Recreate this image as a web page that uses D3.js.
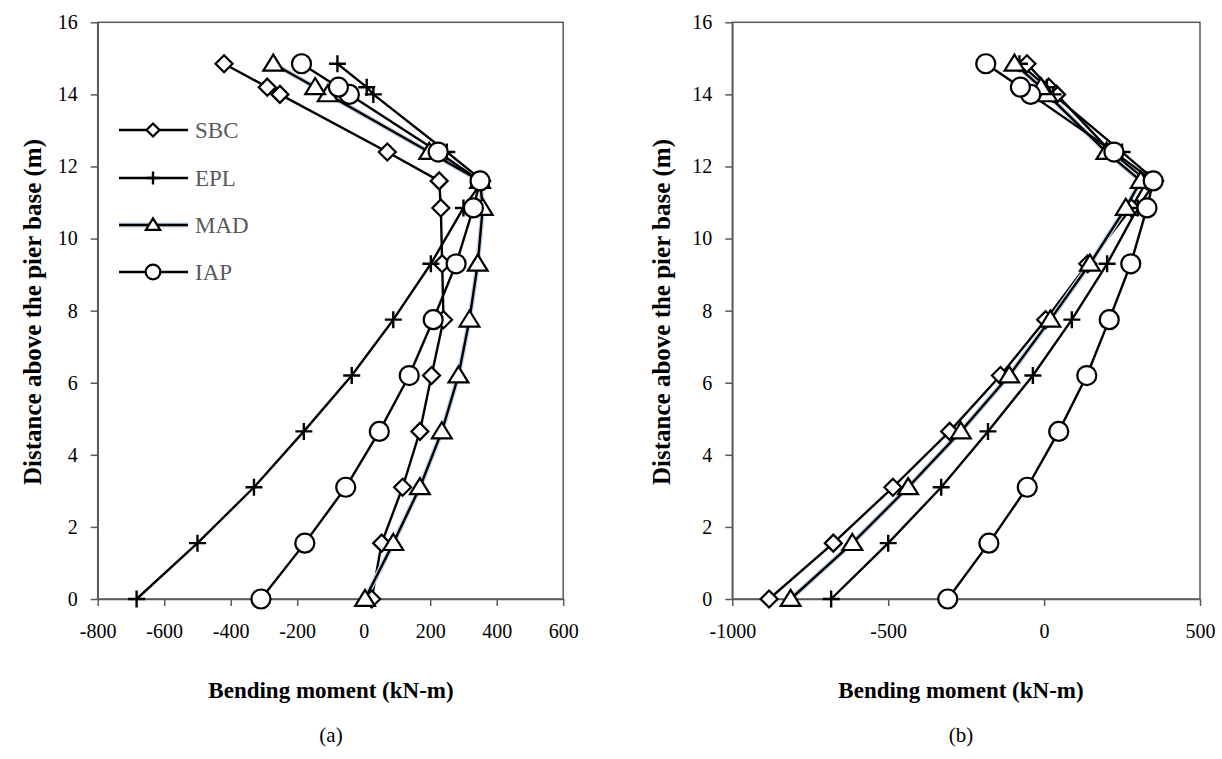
<!DOCTYPE html>
<html>
<head>
<meta charset="utf-8">
<script src="https://cdn.jsdelivr.net/npm/d3@7"></script>
<style>
  html, body { margin: 0; padding: 0; background: #fff; }
  svg { display: block; }
  text { font-family: "Liberation Serif", "Times New Roman", Times, serif; }
</style>
</head>
<body>
<svg id="chart" width="1222" height="759"></svg>
<script>
// ---- Data ----
const heights = [0, 1.55, 3.1, 4.65, 6.2, 7.75, 9.3, 10.85, 11.6, 12.4, 14.0, 14.2, 14.85];

// Panel (a)
const sbcA = [24, 54, 117, 169, 204, 240, 236, 232, 227, 71, -252, -290, -420];
const eplA = [-683, -500, -330, -180, -36, 89, 202, 300, 358, 250, 29, 9, -79];
const madA = [4, 89, 169, 235, 285, 318, 343, 358, 350, 197, -108, -146, -272];
const iapA = [-309, -177, -54, 47, 137, 209, 278, 330, 350, 224, -43, -76, -187];

// Panel (b)
const sbcB = [-882, -676, -485, -303, -140, 5, 140, 280, 330, 215, 40, 15, -55];
const eplB = [-683, -500, -330, -180, -36, 89, 202, 300, 358, 250, 29, 9, -79];
const madB = [-813, -615, -436, -267, -112, 20, 147, 262, 310, 200, 10, -10, -95];
const iapB = [-309, -177, -54, 47, 137, 209, 278, 330, 350, 224, -43, -76, -187];

const seriesNames = ["SBC", "EPL", "MAD", "IAP"];
const seriesShapes = ["diamond", "plus", "triangle", "circle"];

const xTicksA = [-800, -600, -400, -200, 0, 200, 400, 600];
const xTicksB = [-1000, -500, 0, 500];
const yTicks = [0, 2, 4, 6, 8, 10, 12, 14, 16];

const xTitle = "Bending moment (kN-m)";
const yTitle = "Distance above the pier base (m)";
const panelLabels = ["(a)", "(b)"];

// ---- Drawing ----
const FONT = "'Liberation Serif', 'Times New Roman', Times, serif";
const svg = d3.select("#chart");
const axisColor = "#595959";

function markerPath(shape, s) {
  if (shape === "diamond") return `M0,${-s}L${s},0L0,${s}L${-s},0Z`;
  if (shape === "triangle") {
    const h = s * 1.7;
    return `M0,${-h * 0.6}L${s * 1.1},${h * 0.45}L${-s * 1.1},${h * 0.45}Z`;
  }
  if (shape === "plus") return `M${-s},0L${s},0M0,${-s}L0,${s}`;
  return null;
}

function drawMarker(g, shape, x, y, size) {
  if (shape === "circle") {
    g.append("circle").attr("cx", x).attr("cy", y).attr("r", size)
      .attr("fill", "#fff").attr("stroke", "#000").attr("stroke-width", 2.2);
  } else {
    g.append("path").attr("d", markerPath(shape, size))
      .attr("transform", `translate(${x},${y})`)
      .attr("fill", shape === "plus" ? "none" : "#fff")
      .attr("stroke", "#000").attr("stroke-width", shape === "plus" ? 2.4 : 2.2);
  }
}

const markerSizes = { diamond: 8.5, plus: 8.5, triangle: 9, circle: 9.5 };

function drawPanel(cfg) {
  const x = d3.scaleLinear().domain(cfg.xDomain).range(cfg.xRange);
  const y = d3.scaleLinear().domain([0, 16]).range([599, 22.3]);
  const g = svg.append("g");

  // frame
  g.append("rect")
    .attr("x", cfg.xRange[0]).attr("y", y(16))
    .attr("width", cfg.xRange[1] - cfg.xRange[0]).attr("height", y(0) - y(16))
    .attr("fill", "none").attr("stroke", axisColor).attr("stroke-width", 1.5);

  const yAxis = d3.axisLeft(y).tickValues(yTicks).tickSize(7).tickSizeOuter(0)
    .tickPadding(13).tickFormat(d => String(d));
  const yg = g.append("g").attr("transform", `translate(${cfg.xRange[0]},0)`).call(yAxis);
  const xAxis = d3.axisBottom(x).tickValues(cfg.xTicks).tickSize(7).tickSizeOuter(0)
    .tickPadding(18).tickFormat(d => String(d));
  const xg = g.append("g").attr("transform", `translate(0,${y(0)})`).call(xAxis);
  [yg, xg].forEach(a => {
    a.attr("font-family", FONT);
    a.select(".domain").attr("stroke", axisColor).attr("stroke-width", 1.5);
    a.selectAll(".tick line").attr("stroke", axisColor).attr("stroke-width", 1.5);
    a.selectAll(".tick text").attr("fill", "#000")
      .style("font-family", FONT).style("font-size", "20px");
  });

  // series lines
  const line = d3.line().x(d => x(d[0])).y(d => y(d[1]));
  cfg.series.forEach((vals, i) => {
    const pts = vals.map((v, j) => [v, heights[j]]);
    if (seriesNames[i] === "MAD") {
      g.append("path").attr("d", line(pts)).attr("fill", "none")
        .attr("stroke", "#c3d6ea").attr("stroke-width", 5).attr("stroke-linejoin", "round");
    }
    g.append("path").attr("d", line(pts)).attr("fill", "none")
      .attr("stroke", "#000").attr("stroke-width", 2.4).attr("stroke-linejoin", "round");
  });
  // markers
  cfg.series.forEach((vals, i) => {
    const shape = seriesShapes[i];
    const mg = g.append("g");
    vals.forEach((v, j) => drawMarker(mg, shape, x(v), y(heights[j]), markerSizes[shape]));
  });

  // titles
  g.append("text").attr("x", cfg.xTitleX).attr("y", 698).attr("text-anchor", "middle")
    .style("font-family", FONT).style("font-size", "23px").style("font-weight", "bold").text(xTitle);
  g.append("text").attr("x", cfg.xTitleX).attr("y", 742).attr("text-anchor", "middle")
    .style("font-family", FONT).style("font-size", "21px").text(cfg.label);
  g.append("text")
    .attr("transform", `translate(${cfg.yTitleX},312) rotate(-90)`)
    .attr("text-anchor", "middle").style("font-family", FONT)
    .style("font-size", "25px").style("font-weight", "bold")
    .text(yTitle);

  return g;
}

const gA = drawPanel({
  xDomain: [-800, 600], xRange: [97.7, 563.2], xTicks: xTicksA,
  series: [sbcA, eplA, madA, iapA], label: panelLabels[0], xTitleX: 331, yTitleX: 41
});
drawPanel({
  xDomain: [-1000, 500], xRange: [732.3, 1200], xTicks: xTicksB,
  series: [sbcB, eplB, madB, iapB], label: panelLabels[1], xTitleX: 961, yTitleX: 670
});

// legend (panel a)
const legendY = [130, 178, 225, 272];
const lg = gA.append("g");
seriesNames.forEach((name, i) => {
  const yy = legendY[i];
  if (name === "MAD") {
    lg.append("line").attr("x1", 119).attr("x2", 188).attr("y1", yy).attr("y2", yy)
      .attr("stroke", "#c3d6ea").attr("stroke-width", 5);
  }
  lg.append("line").attr("x1", 119).attr("x2", 188).attr("y1", yy).attr("y2", yy)
    .attr("stroke", "#000").attr("stroke-width", 2.4);
  const s = seriesShapes[i];
  drawMarker(lg, s, 153, yy, s === "circle" ? 7.3 : 6.5);
  lg.append("text").attr("x", 195).attr("y", yy + 8).attr("fill", "#595959")
    .style("font-family", FONT).style("font-size", "23px").text(name);
});
</script>
</body>
</html>
